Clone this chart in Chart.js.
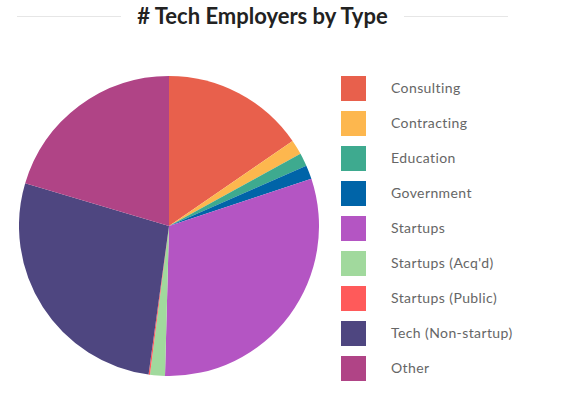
<!DOCTYPE html>
<html>
<head>
<meta charset="utf-8">
<script src="https://cdn.jsdelivr.net/npm/chart.js@4"></script>
<style>
  html, body { margin: 0; padding: 0; background: #fff; }
  body { width: 570px; height: 395px; position: relative; overflow: hidden; font-family: Lato, sans-serif; }
  .header { position: absolute; left: 17px; top: 0; width: 491px; height: 32px; }
  .header .line { position: absolute; top: 16px; height: 1px; background: #e6e6e6; }
  .header h2 { position: absolute; left: 0; width: 100%; top: 3px; margin: 0; text-align: center;
               font-size: 22px; font-weight: 700; color: #222; line-height: 26px; }
  #pieBox { position: absolute; left: 19px; top: 76px; width: 300px; height: 300px; }
  #legenda { position: absolute; left: 341px; top: 76px; }
  .item { position: relative; height: 25px; margin-bottom: 10px; }
  .item span.box { position: absolute; left: 0; top: 0; width: 25px; height: 25px; }
  .item span.txt { position: absolute; left: 50px; top: -1px; line-height: 25px; font-size: 14px; letter-spacing: 0.4px; color: #666; white-space: nowrap; }
</style>
</head>
<body>
<div class="header">
  <div class="line" style="left:0;width:104px"></div>
  <h2># Tech Employers by Type</h2>
  <div class="line" style="left:387px;width:104px"></div>
</div>
<div id="pieBox"><canvas id="empregadoresChart"></canvas></div>
<div id="legenda"></div>
<script>
// Categorias e valores (% estimados da imagem)
const categorias = ['Consulting', 'Contracting', 'Education', 'Government', 'Startups',
    "Startups (Acq'd)", 'Startups (Public)', 'Tech (Non-startup)', 'Other'];
const valores = [15.4, 1.6, 1.4, 1.5, 30.5, 1.6, 0.15, 27.4, 20.4];
const cores = ['#e8604c', '#fdb74e', '#3eaa8f', '#0064a8', '#b455c3',
    '#a1d99d', '#ff5a5a', '#4e4680', '#b04486'];

// Legenda em HTML
const legendaDiv = document.getElementById('legenda');
categorias.forEach((cat, i) => {
    legendaDiv.innerHTML += `<div class="item"><span class="box" style="background:${cores[i]}"></span><span class="txt">${cat}</span></div>`;
});

const ctx = document.getElementById('empregadoresChart').getContext('2d');
const empregadoresChart = new Chart(ctx, {
    type: 'pie',
    data: {
        labels: categorias,
        datasets: [{
            data: valores,
            backgroundColor: cores,
            borderWidth: 0
        }]
    },
    options: {
        responsive: true,
        maintainAspectRatio: false,
        animation: false,
        layout: { padding: 0 },
        plugins: {
            legend: { display: false },
            tooltip: { enabled: false }
        }
    }
});
</script>
</body>
</html>
